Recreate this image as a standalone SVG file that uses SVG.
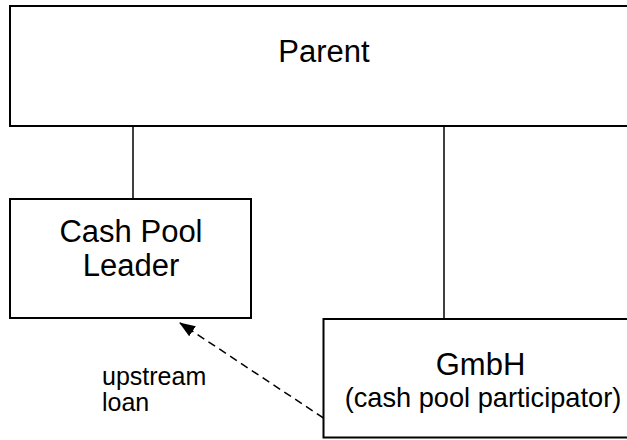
<svg xmlns="http://www.w3.org/2000/svg" width="627" height="440" viewBox="0 0 627 440">
<style>
.box{fill:#fff;stroke:#000;stroke-width:2}
.t{font-family:"Liberation Sans",Arial,sans-serif;fill:#000;text-anchor:middle}
.conn{stroke:#000;stroke-width:1.5;fill:none}
</style>
<defs>
<marker id="ah" markerWidth="16" markerHeight="12" refX="15" refY="6" orient="auto" markerUnits="userSpaceOnUse">
<path d="M0,0 L16,6 L0,12 Z" fill="#000"/>
</marker>
</defs>
<rect width="627" height="440" fill="#fff"/>
<g id="connectors">
<line class="conn" x1="133" y1="126" x2="133" y2="199"/>
<line class="conn" x1="444" y1="126" x2="444" y2="319"/>
<line class="conn" x1="323.5" y1="418" x2="180" y2="323" stroke-dasharray="8,5" marker-end="url(#ah)"/>
<text class="t" x="102" y="385" font-size="25" style="text-anchor:start">upstream</text>
<text class="t" x="102" y="411" font-size="25" style="text-anchor:start">loan</text>
</g>
<g id="parent">
<rect class="box" x="10" y="6" width="640" height="120"/>
<text class="t" x="324" y="61.5" font-size="31">Parent</text>
</g>
<g id="leader">
<rect class="box" x="10" y="199" width="241" height="119"/>
<text class="t" x="131" y="241.5" font-size="31">Cash Pool</text>
<text class="t" x="131" y="275.5" font-size="31">Leader</text>
</g>
<g id="gmbh">
<rect class="box" x="323.5" y="319" width="320" height="118.5"/>
<text class="t" x="480.5" y="375" font-size="31">GmbH</text>
<text class="t" x="483" y="407" font-size="27.2">(cash pool participator)</text>
</g>
</svg>
